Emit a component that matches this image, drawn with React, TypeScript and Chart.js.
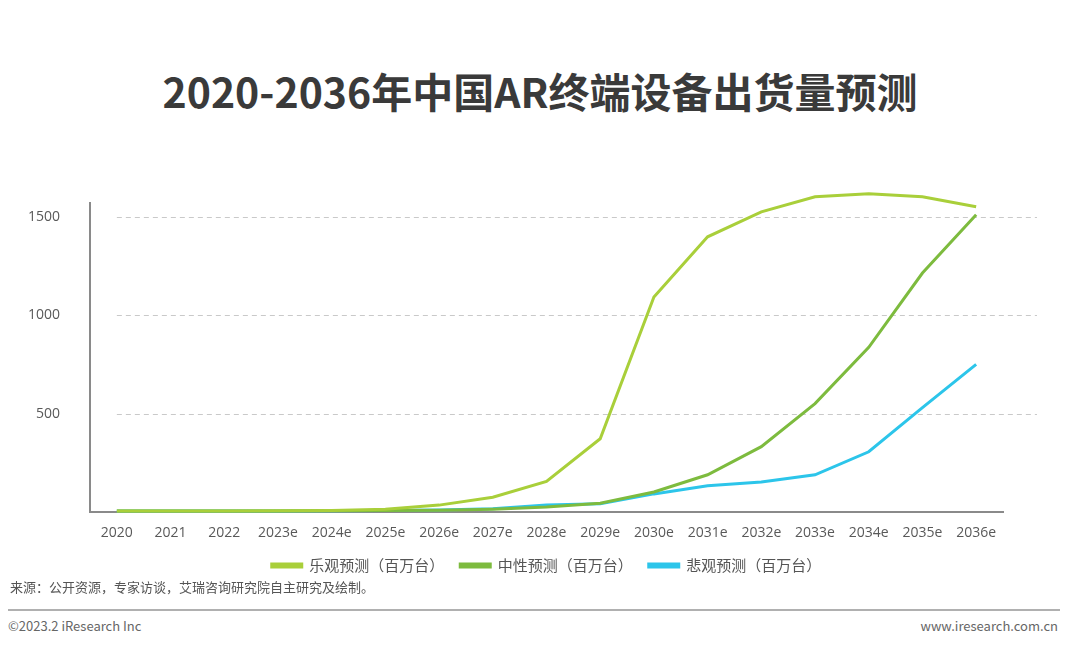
import React, { useEffect, useRef } from "react";
import { Chart, registerables } from "chart.js";

Chart.register(...registerables);

const categories = ["2020", "2021", "2022", "2023e", "2024e", "2025e", "2026e", "2027e", "2028e", "2029e", "2030e", "2031e", "2032e", "2033e", "2034e", "2035e", "2036e"];
const optimistic = [5, 5, 5, 6, 8, 14, 35, 75, 155, 372, 1092, 1398, 1525, 1602, 1617, 1602, 1551];
const neutral = [5, 5, 5, 5, 6, 7, 9, 14, 25, 45, 102, 189, 332, 551, 837, 1214, 1510];
const pessimistic = [5, 5, 5, 5, 6, 7, 10, 16, 36, 42, 92, 133, 153, 189, 306, 530, 750];
const seriesNames = ["乐观预测（百万台）", "中性预测（百万台）", "悲观预测（百万台）"];
const yTicks = [500, 1000, 1500];

const FONT = '"Open Sans", "Noto Sans CJK SC", sans-serif';
const CJK = '"Noto Sans CJK SC", "Open Sans", sans-serif';

const dashedGrid = {
  id: "dashedGrid",
  beforeDatasetsDraw(chart: any) {
    const { ctx, chartArea, scales } = chart;
    const x0 = scales.x.getPixelForValue(0);
    const x1 = chartArea.right + 34;
    ctx.save();
    ctx.strokeStyle = "#c9c9c9";
    ctx.lineWidth = 1;
    ctx.setLineDash([5, 4]);
    yTicks.forEach((v) => {
      const y = Math.round(scales.y.getPixelForValue(v)) + 0.5;
      ctx.beginPath();
      ctx.moveTo(x0, y);
      ctx.lineTo(x1, y);
      ctx.stroke();
    });
    ctx.restore();
  },
};

export default function App() {
  const ref = useRef<HTMLCanvasElement>(null);
  useEffect(() => {
    if (!ref.current) return;
    const colors = ["#a9cf3a", "#7dbb3e", "#2cc5ea"];
    const data = [optimistic, neutral, pessimistic];
    const chart = new Chart(ref.current, {
      type: "line",
      data: {
        labels: categories,
        datasets: data.map((d, i) => ({
          label: seriesNames[i],
          data: d,
          borderColor: colors[i],
          backgroundColor: colors[i],
          borderWidth: 3,
          pointRadius: 0,
          tension: 0,
          clip: false as any,
        })),
      },
      options: {
        animation: false,
        responsive: true,
        maintainAspectRatio: false,
        layout: { padding: { top: 23, right: 77, left: 0, bottom: 0 } },
        plugins: {
          legend: {
            position: "bottom",
            fullSize: false,
            labels: {
              boxWidth: 30,
              boxHeight: 3,
              padding: 16,
              color: "#555",
              font: { family: CJK, size: 15 },
            },
          },
          tooltip: { enabled: false },
        },
        scales: {
          x: {
            offset: true,
            grid: { display: false },
            border: { display: true, color: "#8a8a8a", width: 2 },
            ticks: { color: "#595959", font: { family: FONT, size: 14 }, padding: 5, maxRotation: 0, autoSkip: false },
            afterFit: (s: any) => { s.height = 30; },
          },
          y: {
            min: 0,
            max: 1570,
            grid: { display: false },
            border: { display: true, color: "#8a8a8a", width: 2 },
            ticks: {
              color: "#595959",
              font: { family: FONT, size: 14 },
              padding: 22,
              callback: (v: any) => String(v),
            },
            afterBuildTicks: (s: any) => { s.ticks = yTicks.map((v) => ({ value: v })); },
            afterFit: (s: any) => { s.width = 90; s.paddingTop = 0; s.paddingBottom = 0; },
          },
        },
      },
      plugins: [dashedGrid],
    });
    return () => chart.destroy();
  }, []);

  return (
    <div style={{ position: "absolute", left: 0, top: 0, width: 1080, height: 645, background: "#fff", overflow: "hidden", fontFamily: CJK }}>
      <div style={{ position: "absolute", left: 0, top: 62, width: 1080, textAlign: "center", fontSize: 41, fontWeight: 700, color: "#3a3a3a", lineHeight: "56px" }}>
        2020-2036年中国AR终端设备出货量预测
      </div>
      <div style={{ position: "absolute", left: 0, top: 180, width: 1080, height: 403 }}>
        <canvas ref={ref} />
      </div>
      <div style={{ position: "absolute", left: 10, top: 578, fontSize: 13, color: "#555", lineHeight: "18px" }}>
        来源：公开资源，专家访谈，艾瑞咨询研究院自主研究及绘制。
      </div>
      <div style={{ position: "absolute", left: 8, top: 609, width: 1052, height: 2, background: "#b0b0b0" }} />
      <div style={{ position: "absolute", left: 8, top: 617, fontSize: 13, color: "#666", lineHeight: "18px" }}>
        ©2023.2 iResearch Inc
      </div>
      <div style={{ position: "absolute", right: 22, top: 617, fontSize: 13, color: "#666", lineHeight: "18px" }}>
        www.iresearch.com.cn
      </div>
    </div>
  );
}
